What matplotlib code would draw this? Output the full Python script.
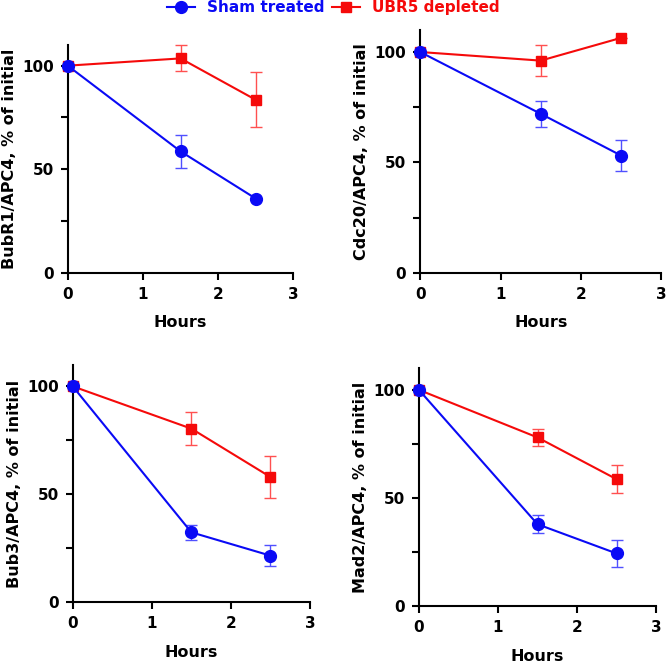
import matplotlib
matplotlib.use('Agg')
import matplotlib.pyplot as plt
from matplotlib.lines import Line2D

plt.rcParams['font.family'] = ['DejaVu Sans']
plt.rcParams['font.weight'] = 'bold'

HOURS = [0, 1.5, 2.5]

# y labels per panel
PANEL_LABELS = ['BubR1/APC4, % of initial', 'Cdc20/APC4, % of initial',
                'Bub3/APC4, % of initial', 'Mad2/APC4, % of initial']

# Sham treated: means and SEM
sham_bubr1 = [100, 58.6, 35.8]
sham_bubr1_err = [0, 7.8, 0]
sham_cdc20 = [100, 72.0, 53.1]
sham_cdc20_err = [0, 5.8, 7.0]
sham_bub3 = [100, 32.4, 21.6]
sham_bub3_err = [0, 3.6, 5.0]
sham_mad2 = [100, 37.9, 24.4]
sham_mad2_err = [0, 4.2, 6.3]

# UBR5 depleted: means and SEM
ubr5_bubr1 = [100, 103.5, 83.5]
ubr5_bubr1_err = [0, 6.3, 13.3]
ubr5_cdc20 = [100, 96.1, 106.4]
ubr5_cdc20_err = [0, 7.0, 0]
ubr5_bub3 = [100, 80.4, 58.0]
ubr5_bub3_err = [0, 7.7, 9.8]
ubr5_mad2 = [100, 78.0, 58.7]
ubr5_mad2_err = [0, 4.1, 6.4]

SHAM = [(sham_bubr1, sham_bubr1_err), (sham_cdc20, sham_cdc20_err),
        (sham_bub3, sham_bub3_err), (sham_mad2, sham_mad2_err)]
UBR5 = [(ubr5_bubr1, ubr5_bubr1_err), (ubr5_cdc20, ubr5_cdc20_err),
        (ubr5_bub3, ubr5_bub3_err), (ubr5_mad2, ubr5_mad2_err)]

BLUE = '#0a0af5'
RED = '#f50a0a'

# axes rectangles (left, bottom, width, height) in figure fraction
RECTS = [(0.1015, 0.5912, 0.3383, 0.3414),
         (0.630, 0.5912, 0.3613, 0.3639),
         (0.109, 0.097, 0.3558, 0.3562),
         (0.628, 0.091, 0.3558, 0.357)]

fig = plt.figure(figsize=(6.67, 6.67), dpi=100)

for rect, label, (s, se), (u, ue) in zip(RECTS, PANEL_LABELS, SHAM, UBR5):
    ax = fig.add_axes(rect)
    ax.errorbar(HOURS, u, yerr=ue, color=RED, marker='s', markersize=7.5,
                linewidth=1.5, elinewidth=1.0, capsize=4, capthick=1.0,
                ecolor='#ff5050', zorder=2, clip_on=False)
    ax.errorbar(HOURS, s, yerr=se, color=BLUE, marker='o', markersize=8.5,
                linewidth=1.5, elinewidth=1.0, capsize=4, capthick=1.0,
                ecolor='#5050ff', zorder=3, clip_on=False)
    ax.set_xlim(0, 3)
    ax.set_ylim(0, 110)
    ax.set_xticks([0, 1, 2, 3])
    ax.set_yticks([0, 50, 100])
    ax.set_yticks([25, 75], minor=True)
    for side in ('top', 'right'):
        ax.spines[side].set_visible(False)
    for side in ('left', 'bottom'):
        ax.spines[side].set_linewidth(1.5)
    ax.tick_params(which='both', direction='out', length=5, width=1.5,
                   labelsize=11, pad=5)
    ax.set_xlabel('Hours', fontsize=11.5, fontweight='bold', labelpad=10)
    ax.set_ylabel(label, fontsize=11.5, fontweight='bold', labelpad=4)
    for t in ax.get_xticklabels() + ax.get_yticklabels():
        t.set_fontweight('bold')

handles = [Line2D([0], [0], color=BLUE, marker='o', markersize=8.5, linewidth=1.5),
           Line2D([0], [0], color=RED, marker='s', markersize=7.5, linewidth=1.5)]
leg = fig.legend(handles, ['Sham treated', 'UBR5 depleted'], loc='upper center',
                 bbox_to_anchor=(0.5, 1.02), ncol=2, frameon=False,
                 prop={'weight': 'bold', 'size': 11}, handlelength=1.8,
                 columnspacing=0.5, handletextpad=0.8)
for txt, c in zip(leg.get_texts(), [BLUE, RED]):
    txt.set_color(c)

fig.savefig('out.png', dpi=100)
